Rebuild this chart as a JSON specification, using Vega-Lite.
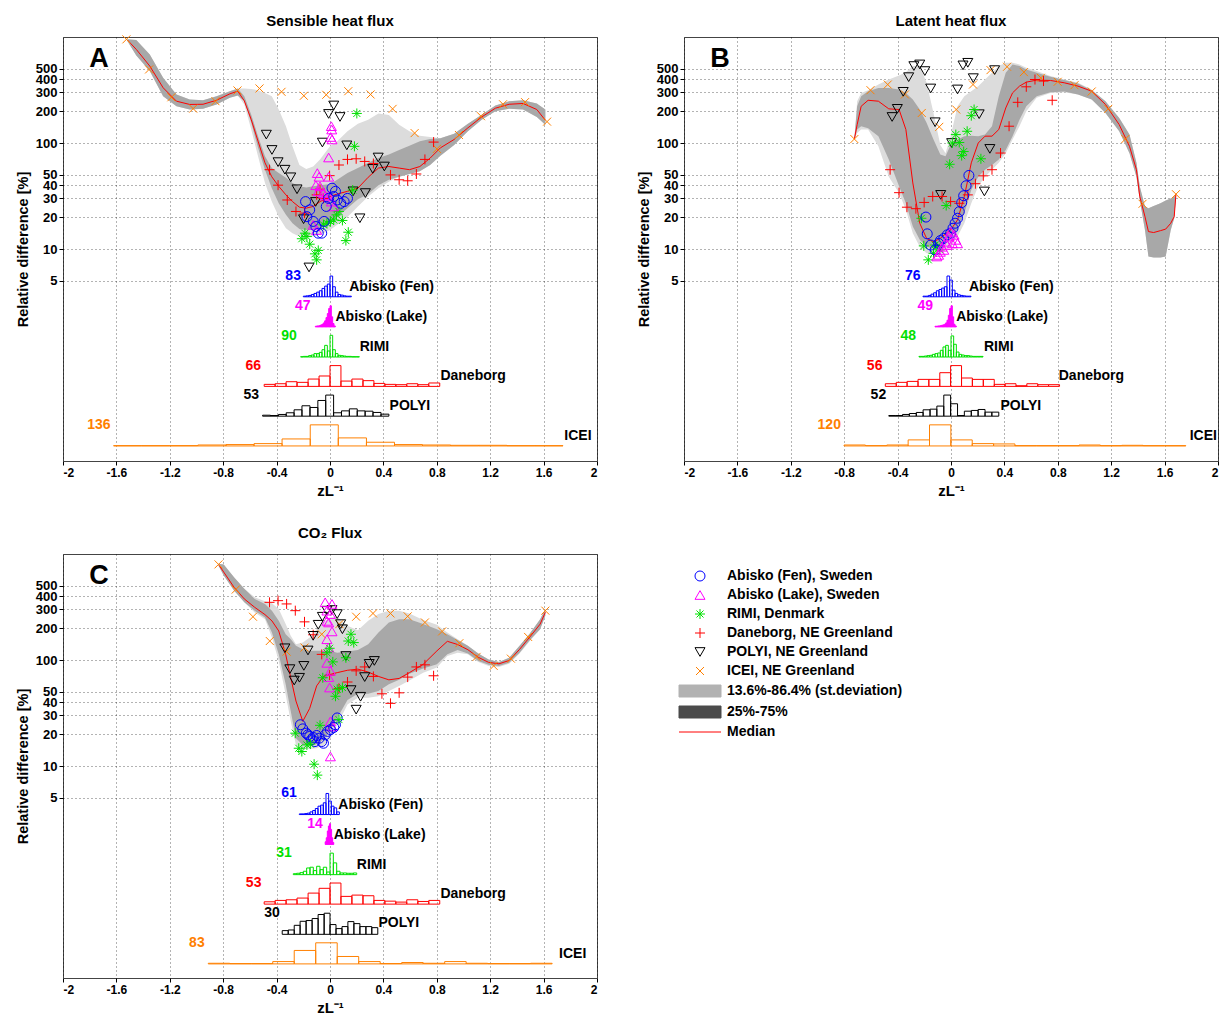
{
"$schema":"https://vega.github.io/schema/vega-lite/v6.json",
"padding":{"left":14,"top":13,"right":0,"bottom":0},
"background":"white",
"config":{
 "font":"Liberation Sans",
 "view":{"stroke":"#444","strokeWidth":1},
 "axis":{"domain":false,"ticks":true,"tickSize":4,"tickColor":"#000","grid":true,"gridDash":[1,3],"gridColor":"#000","gridOpacity":0.6,"gridWidth":1,"labelFont":"Liberation Sans","labelFontSize":12,"labelFontWeight":"bold","labelColor":"#000","labelOverlap":false,"titleFont":"Liberation Sans","titleFontSize":13,"titleFontWeight":"bold","titleColor":"#000","labelPadding":2,"titlePadding":5},
 "axisY":{"labelFontSize":13,"titleFontSize":14.5},
 "axisX":{"titleFontSize":15},
 "title":{"font":"Liberation Sans","fontSize":15,"fontWeight":"bold","color":"#000","offset":8,"frame":"group"},
 "text":{"font":"Liberation Sans"}
},
"datasets":{
"letters":[{"p":"A","x":-1.73,"y":624},{"p":"B","x":-1.73,"y":624},{"p":"C","x":-1.73,"y":618}],
"bands":[
{"p":"A","x":-1.518,"oh":950,"ol":916,"ih":950,"il":916,"m":937},
{"p":"A","x":-1.451,"oh":937,"ol":670,"ih":937,"il":670,"m":764},
{"p":"A","x":-1.35,"oh":685,"ol":477,"ih":685,"il":477,"m":532},
{"p":"A","x":-1.25,"oh":412,"ol":276,"ih":412,"il":276,"m":332},
{"p":"A","x":-1.15,"oh":287,"ol":222,"ih":287,"il":222,"m":248},
{"p":"A","x":-1.051,"oh":257,"ol":207,"ih":257,"il":207,"m":231},
{"p":"A","x":-0.951,"oh":253,"ol":210,"ih":253,"il":210,"m":232},
{"p":"A","x":-0.85,"oh":276,"ol":231,"ih":276,"il":231,"m":253},
{"p":"A","x":-0.75,"oh":308,"ol":267,"ih":308,"il":267,"m":291},
{"p":"A","x":-0.691,"oh":327,"ol":280,"ih":327,"il":280,"m":308},
{"p":"A","x":-0.642,"oh":327,"ol":231,"ih":276,"il":248,"m":250},
{"p":"A","x":-0.59,"oh":324,"ol":134,"ih":185,"il":155,"m":166},
{"p":"A","x":-0.539,"oh":315,"ol":75,"ih":116,"il":90,"m":104},
{"p":"A","x":-0.487,"oh":297,"ol":42,"ih":75,"il":56,"m":65},
{"p":"A","x":-0.436,"oh":276,"ol":28,"ih":58,"il":37.5,"m":48},
{"p":"A","x":-0.384,"oh":207,"ol":20.2,"ih":52,"il":27,"m":39},
{"p":"A","x":-0.33,"oh":144,"ol":15.7,"ih":47,"il":21,"m":32.4},
{"p":"A","x":-0.281,"oh":93,"ol":14.1,"ih":42,"il":17.5,"m":28},
{"p":"A","x":-0.229,"oh":62,"ol":13.1,"ih":39,"il":15.4,"m":24.8},
{"p":"A","x":-0.178,"oh":57,"ol":13.1,"ih":38,"il":15.1,"m":24.3},
{"p":"A","x":-0.126,"oh":60,"ol":13.1,"ih":39,"il":15.1,"m":25.2},
{"p":"A","x":-0.075,"oh":70,"ol":13.6,"ih":40,"il":15.7,"m":28},
{"p":"A","x":0,"oh":93,"ol":15.1,"ih":41,"il":17.5,"m":31.3},
{"p":"A","x":0.054,"oh":104,"ol":16.9,"ih":45,"il":20,"m":33},
{"p":"A","x":0.131,"oh":129,"ol":20,"ih":52,"il":24.3,"m":35},
{"p":"A","x":0.209,"oh":152,"ol":25.2,"ih":58,"il":29.5,"m":37.5},
{"p":"A","x":0.286,"oh":166,"ol":31.3,"ih":65,"il":33,"m":47.5},
{"p":"A","x":0.363,"oh":190,"ol":37.5,"ih":72,"il":40,"m":58},
{"p":"A","x":0.441,"oh":184,"ol":43,"ih":78,"il":45,"m":60},
{"p":"A","x":0.518,"oh":149,"ol":48,"ih":86,"il":48,"m":58},
{"p":"A","x":0.595,"oh":129,"ol":51,"ih":94,"il":51,"m":56},
{"p":"A","x":0.673,"oh":117,"ol":54,"ih":104,"il":54,"m":60},
{"p":"A","x":0.75,"oh":114,"ol":62,"ih":109,"il":62,"m":72},
{"p":"A","x":0.827,"oh":111,"ol":76,"ih":111,"il":76,"m":90},
{"p":"A","x":0.93,"oh":122,"ol":96,"ih":122,"il":96,"m":108},
{"p":"A","x":1.033,"oh":152,"ol":129,"ih":152,"il":129,"m":139},
{"p":"A","x":1.136,"oh":185,"ol":166,"ih":185,"il":166,"m":176},
{"p":"A","x":1.239,"oh":226,"ol":199,"ih":226,"il":199,"m":213},
{"p":"A","x":1.342,"oh":248,"ol":210,"ih":248,"il":210,"m":232},
{"p":"A","x":1.446,"oh":253,"ol":207,"ih":253,"il":207,"m":236},
{"p":"A","x":1.549,"oh":236,"ol":176,"ih":236,"il":176,"m":207},
{"p":"A","x":1.613,"oh":207,"ol":149,"ih":207,"il":149,"m":164},
{"p":"B","x":-0.724,"oh":109,"ol":106,"ih":109,"il":106,"m":109},
{"p":"B","x":-0.703,"oh":248,"ol":124,"ih":222,"il":134,"m":149},
{"p":"B","x":-0.673,"oh":297,"ol":134,"ih":276,"il":144,"m":222},
{"p":"B","x":-0.621,"oh":315,"ol":134,"ih":308,"il":138,"m":253},
{"p":"B","x":-0.544,"oh":356,"ol":93,"ih":331,"il":116,"m":248},
{"p":"B","x":-0.466,"oh":397,"ol":48,"ih":331,"il":70,"m":210},
{"p":"B","x":-0.389,"oh":434,"ol":33.7,"ih":320,"il":39,"m":207},
{"p":"B","x":-0.338,"oh":466,"ol":23.4,"ih":297,"il":27,"m":134},
{"p":"B","x":-0.286,"oh":532,"ol":14.1,"ih":257,"il":16.3,"m":42},
{"p":"B","x":-0.234,"oh":532,"ol":10.5,"ih":207,"il":12.2,"m":17.5},
{"p":"B","x":-0.183,"oh":370,"ol":9.1,"ih":155,"il":10.5,"m":12.6},
{"p":"B","x":-0.131,"oh":192,"ol":9.0,"ih":108,"il":10.1,"m":11.7},
{"p":"B","x":-0.08,"oh":96,"ol":9.4,"ih":78,"il":10.9,"m":12.6},
{"p":"B","x":-0.041,"oh":80,"ol":9.8,"ih":75,"il":11.7,"m":13.9},
{"p":"B","x":-0.003,"oh":116,"ol":10.5,"ih":96,"il":13.1,"m":15.1},
{"p":"B","x":0.049,"oh":222,"ol":13.1,"ih":108,"il":15.1,"m":18.8},
{"p":"B","x":0.1,"oh":276,"ol":17.5,"ih":116,"il":21.8,"m":31.3},
{"p":"B","x":0.152,"oh":308,"ol":27,"ih":117,"il":36,"m":65},
{"p":"B","x":0.204,"oh":344,"ol":39,"ih":116,"il":48,"m":100},
{"p":"B","x":0.255,"oh":397,"ol":48,"ih":120,"il":56,"m":116},
{"p":"B","x":0.307,"oh":459,"ol":56,"ih":144,"il":62,"m":116},
{"p":"B","x":0.358,"oh":532,"ol":65,"ih":276,"il":70,"m":134},
{"p":"B","x":0.41,"oh":571,"ol":80,"ih":459,"il":86,"m":214},
{"p":"B","x":0.461,"oh":571,"ol":108,"ih":551,"il":116,"m":297},
{"p":"B","x":0.513,"oh":551,"ol":144,"ih":532,"il":166,"m":344},
{"p":"B","x":0.564,"oh":513,"ol":199,"ih":494,"il":222,"m":375},
{"p":"B","x":0.642,"oh":477,"ol":267,"ih":459,"il":276,"m":392},
{"p":"B","x":0.745,"oh":428,"ol":297,"ih":421,"il":301,"m":389},
{"p":"B","x":0.848,"oh":397,"ol":301,"ih":392,"il":306,"m":370},
{"p":"B","x":0.951,"oh":370,"ol":287,"ih":365,"il":287,"m":344},
{"p":"B","x":1.054,"oh":320,"ol":257,"ih":315,"il":257,"m":308},
{"p":"B","x":1.157,"oh":248,"ol":192,"ih":248,"il":192,"m":231},
{"p":"B","x":1.26,"oh":172,"ol":129,"ih":172,"il":129,"m":149},
{"p":"B","x":1.337,"oh":120,"ol":80,"ih":120,"il":80,"m":93},
{"p":"B","x":1.389,"oh":65,"ol":48,"ih":65,"il":48,"m":56},
{"p":"B","x":1.414,"oh":39,"ol":29,"ih":39,"il":29,"m":31.3},
{"p":"B","x":1.453,"oh":25.2,"ol":15.1,"ih":25.2,"il":15.1,"m":20.2},
{"p":"B","x":1.479,"oh":24.3,"ol":8.5,"ih":24.3,"il":8.5,"m":14.6},
{"p":"B","x":1.518,"oh":25.5,"ol":8.3,"ih":25.5,"il":8.3,"m":14.3},
{"p":"B","x":1.569,"oh":27,"ol":8.3,"ih":27,"il":8.3,"m":14.9},
{"p":"B","x":1.608,"oh":28.7,"ol":8.5,"ih":28.7,"il":8.5,"m":15.4},
{"p":"B","x":1.646,"oh":30,"ol":15.1,"ih":30,"il":15.1,"m":17.5},
{"p":"B","x":1.672,"oh":31.3,"ol":19.5,"ih":31.3,"il":19.5,"m":20.2},
{"p":"B","x":1.685,"oh":33,"ol":31.3,"ih":33,"il":31.3,"m":33},
{"p":"C","x":-0.835,"oh":809,"ol":775,"ih":809,"il":775,"m":798},
{"p":"C","x":-0.796,"oh":798,"ol":627,"ih":798,"il":627,"m":675},
{"p":"C","x":-0.719,"oh":605,"ol":452,"ih":605,"il":452,"m":486},
{"p":"C","x":-0.642,"oh":469,"ol":350,"ih":469,"il":350,"m":377},
{"p":"C","x":-0.564,"oh":391,"ol":281,"ih":377,"il":292,"m":314},
{"p":"C","x":-0.487,"oh":358,"ol":243,"ih":338,"il":252,"m":268},
{"p":"C","x":-0.435,"oh":343,"ol":163,"ih":292,"il":182,"m":234},
{"p":"C","x":-0.384,"oh":303,"ol":98,"ih":234,"il":113,"m":188},
{"p":"C","x":-0.332,"oh":218,"ol":47,"ih":175,"il":59,"m":113},
{"p":"C","x":-0.294,"oh":169,"ol":26.4,"ih":157,"il":32.8,"m":68},
{"p":"C","x":-0.255,"oh":141,"ol":15.8,"ih":136,"il":18.3,"m":41},
{"p":"C","x":-0.204,"oh":146,"ol":14.5,"ih":126,"il":15.8,"m":26.4},
{"p":"C","x":-0.152,"oh":163,"ol":14.5,"ih":122,"il":15.8,"m":35},
{"p":"C","x":-0.1,"oh":195,"ol":14.7,"ih":122,"il":16.1,"m":57},
{"p":"C","x":-0.049,"oh":226,"ol":15.6,"ih":122,"il":17.7,"m":70},
{"p":"C","x":0,"oh":252,"ol":17.7,"ih":122,"il":21.2,"m":73},
{"p":"C","x":0.054,"oh":256,"ol":24.5,"ih":117,"il":28.4,"m":76},
{"p":"C","x":0.131,"oh":210,"ol":38,"ih":120,"il":42,"m":80},
{"p":"C","x":0.209,"oh":191,"ol":44,"ih":124,"il":48,"m":82},
{"p":"C","x":0.286,"oh":234,"ol":44,"ih":141,"il":48,"m":77},
{"p":"C","x":0.363,"oh":271,"ol":45.5,"ih":182,"il":51,"m":70},
{"p":"C","x":0.441,"oh":292,"ol":51,"ih":226,"il":59,"m":65},
{"p":"C","x":0.518,"oh":292,"ol":57,"ih":243,"il":65,"m":67},
{"p":"C","x":0.595,"oh":275,"ol":64,"ih":243,"il":74,"m":76},
{"p":"C","x":0.698,"oh":238,"ol":76,"ih":218,"il":83,"m":91},
{"p":"C","x":0.801,"oh":215,"ol":85,"ih":195,"il":91,"m":122},
{"p":"C","x":0.879,"oh":182,"ol":109,"ih":175,"il":113,"m":150},
{"p":"C","x":0.956,"oh":157,"ol":117,"ih":154,"il":124,"m":140},
{"p":"C","x":1.033,"oh":136,"ol":113,"ih":136,"il":115,"m":125},
{"p":"C","x":1.111,"oh":115,"ol":96,"ih":115,"il":98,"m":106},
{"p":"C","x":1.188,"oh":101,"ol":88,"ih":101,"il":90,"m":95},
{"p":"C","x":1.265,"oh":96,"ol":86,"ih":96,"il":88,"m":92},
{"p":"C","x":1.342,"oh":105,"ol":92,"ih":105,"il":94,"m":99},
{"p":"C","x":1.42,"oh":136,"ol":115,"ih":136,"il":117,"m":126},
{"p":"C","x":1.497,"oh":178,"ol":151,"ih":178,"il":154,"m":165},
{"p":"C","x":1.574,"oh":243,"ol":195,"ih":243,"il":195,"m":218},
{"p":"C","x":1.613,"oh":303,"ol":262,"ih":303,"il":262,"m":282}
],
"pts":[
{"p":"A","s":"ICEI","x":-1.525,"y":950},{"p":"A","s":"ICEI","x":-1.355,"y":494},{"p":"A","s":"ICEI","x":-1.188,"y":270},{"p":"A","s":"ICEI","x":-1.025,"y":211},{"p":"A","s":"ICEI","x":-0.858,"y":248},{"p":"A","s":"ICEI","x":-0.693,"y":313},{"p":"A","s":"ICEI","x":-0.528,"y":327},{"p":"A","s":"ICEI","x":-0.363,"y":304},{"p":"A","s":"ICEI","x":-0.196,"y":279},{"p":"A","s":"ICEI","x":-0.028,"y":285},{"p":"A","s":"ICEI","x":0.137,"y":308},{"p":"A","s":"ICEI","x":0.304,"y":287},{"p":"A","s":"ICEI","x":0.469,"y":210},{"p":"A","s":"ICEI","x":0.634,"y":124},{"p":"A","s":"ICEI","x":0.801,"y":88},{"p":"A","s":"ICEI","x":0.966,"y":119},{"p":"A","s":"ICEI","x":1.131,"y":179},{"p":"A","s":"ICEI","x":1.296,"y":232},{"p":"A","s":"ICEI","x":1.461,"y":243},{"p":"A","s":"ICEI","x":1.626,"y":159},
{"p":"A","s":"POLYI","x":0.028,"y":226},{"p":"A","s":"POLYI","x":-0.01,"y":188},{"p":"A","s":"POLYI","x":0.075,"y":176},{"p":"A","s":"POLYI","x":-0.477,"y":120},{"p":"A","s":"POLYI","x":-0.435,"y":86},{"p":"A","s":"POLYI","x":-0.057,"y":101},{"p":"A","s":"POLYI","x":0.126,"y":95},{"p":"A","s":"POLYI","x":-0.389,"y":66},{"p":"A","s":"POLYI","x":-0.338,"y":56},{"p":"A","s":"POLYI","x":-0.294,"y":47.5},{"p":"A","s":"POLYI","x":0.361,"y":73},{"p":"A","s":"POLYI","x":0.407,"y":60},{"p":"A","s":"POLYI","x":0.32,"y":57},{"p":"A","s":"POLYI","x":-0.247,"y":36.6},{"p":"A","s":"POLYI","x":0.173,"y":35},{"p":"A","s":"POLYI","x":0.265,"y":33.7},{"p":"A","s":"POLYI","x":-0.108,"y":27.8},{"p":"A","s":"POLYI","x":-0.198,"y":19.1},{"p":"A","s":"POLYI","x":0.224,"y":19.5},{"p":"A","s":"POLYI","x":-0.157,"y":6.7},
{"p":"A","s":"Dan","x":-0.453,"y":56},{"p":"A","s":"Dan","x":-0.389,"y":40},{"p":"A","s":"Dan","x":-0.32,"y":29},{"p":"A","s":"Dan","x":-0.255,"y":22.6},{"p":"A","s":"Dan","x":-0.191,"y":21.8},{"p":"A","s":"Dan","x":-0.075,"y":36.7},{"p":"A","s":"Dan","x":-0.003,"y":49.2},{"p":"A","s":"Dan","x":0.067,"y":62},{"p":"A","s":"Dan","x":0.131,"y":70},{"p":"A","s":"Dan","x":0.196,"y":71},{"p":"A","s":"Dan","x":0.26,"y":67},{"p":"A","s":"Dan","x":0.325,"y":64},{"p":"A","s":"Dan","x":0.453,"y":50},{"p":"A","s":"Dan","x":0.518,"y":45},{"p":"A","s":"Dan","x":0.582,"y":44},{"p":"A","s":"Dan","x":0.647,"y":51},{"p":"A","s":"Dan","x":0.711,"y":70},{"p":"A","s":"Dan","x":0.776,"y":102},{"p":"A","s":"Dan","x":-0.049,"y":30},{"p":"A","s":"Dan","x":-0.1,"y":32.4},
{"p":"A","s":"RIMI","x":0.201,"y":190},{"p":"A","s":"RIMI","x":0.183,"y":93},{"p":"A","s":"RIMI","x":0.17,"y":36},{"p":"A","s":"RIMI","x":0.067,"y":22.6},{"p":"A","s":"RIMI","x":0.049,"y":21},{"p":"A","s":"RIMI","x":0.028,"y":18.8},{"p":"A","s":"RIMI","x":0.093,"y":18.6},{"p":"A","s":"RIMI","x":0.003,"y":18.2},{"p":"A","s":"RIMI","x":-0.023,"y":17.5},{"p":"A","s":"RIMI","x":-0.049,"y":16.9},{"p":"A","s":"RIMI","x":-0.188,"y":14.1},{"p":"A","s":"RIMI","x":-0.211,"y":12.5},{"p":"A","s":"RIMI","x":-0.152,"y":11.1},{"p":"A","s":"RIMI","x":-0.088,"y":9.7},{"p":"A","s":"RIMI","x":-0.113,"y":9.0},{"p":"A","s":"RIMI","x":-0.1,"y":7.9},{"p":"A","s":"RIMI","x":0.137,"y":14.4},{"p":"A","s":"RIMI","x":0.119,"y":12.0},{"p":"A","s":"RIMI","x":-0.173,"y":13.1},
{"p":"A","s":"Lake","x":0.01,"y":144},{"p":"A","s":"Lake","x":0.013,"y":134},{"p":"A","s":"Lake","x":0.005,"y":114},{"p":"A","s":"Lake","x":0.015,"y":108},{"p":"A","s":"Lake","x":-0.01,"y":73},{"p":"A","s":"Lake","x":-0.095,"y":52},{"p":"A","s":"Lake","x":-0.082,"y":48},{"p":"A","s":"Lake","x":-0.01,"y":48},{"p":"A","s":"Lake","x":-0.106,"y":40},{"p":"A","s":"Lake","x":-0.075,"y":39},{"p":"A","s":"Lake","x":-0.088,"y":35},{"p":"A","s":"Lake","x":-0.049,"y":33.7},{"p":"A","s":"Lake","x":-0.036,"y":32},{"p":"A","s":"Lake","x":-0.01,"y":31.8},{"p":"A","s":"Lake","x":0.01,"y":28},{"p":"A","s":"Lake","x":0.028,"y":25.2},{"p":"A","s":"Lake","x":-0.126,"y":16.9},{"p":"A","s":"Lake","x":-0.1,"y":15.1},
{"p":"A","s":"Fen","x":-0.183,"y":28},{"p":"A","s":"Fen","x":-0.152,"y":23.4},{"p":"A","s":"Fen","x":-0.173,"y":20.2},{"p":"A","s":"Fen","x":-0.126,"y":18.2},{"p":"A","s":"Fen","x":-0.106,"y":16.3},{"p":"A","s":"Fen","x":-0.088,"y":14.1},{"p":"A","s":"Fen","x":-0.062,"y":14.1},{"p":"A","s":"Fen","x":-0.028,"y":25.2},{"p":"A","s":"Fen","x":-0.044,"y":18.2},{"p":"A","s":"Fen","x":0.015,"y":37.5},{"p":"A","s":"Fen","x":0.041,"y":35},{"p":"A","s":"Fen","x":0.028,"y":31.3},{"p":"A","s":"Fen","x":0.054,"y":29},{"p":"A","s":"Fen","x":0.08,"y":27},{"p":"A","s":"Fen","x":0.106,"y":28},{"p":"A","s":"Fen","x":0.131,"y":30},{"p":"A","s":"Fen","x":-0.01,"y":30},
{"p":"B","s":"ICEI","x":-0.724,"y":109},{"p":"B","s":"ICEI","x":-0.603,"y":315},{"p":"B","s":"ICEI","x":-0.474,"y":356},{"p":"B","s":"ICEI","x":-0.345,"y":287},{"p":"B","s":"ICEI","x":-0.219,"y":192},{"p":"B","s":"ICEI","x":-0.088,"y":142},{"p":"B","s":"ICEI","x":0.039,"y":207},{"p":"B","s":"ICEI","x":0.165,"y":356},{"p":"B","s":"ICEI","x":0.296,"y":487},{"p":"B","s":"ICEI","x":0.42,"y":524},{"p":"B","s":"ICEI","x":0.546,"y":466},{"p":"B","s":"ICEI","x":0.673,"y":412},{"p":"B","s":"ICEI","x":0.799,"y":378},{"p":"B","s":"ICEI","x":0.925,"y":351},{"p":"B","s":"ICEI","x":1.054,"y":306},{"p":"B","s":"ICEI","x":1.178,"y":210},{"p":"B","s":"ICEI","x":1.306,"y":109},{"p":"B","s":"ICEI","x":1.435,"y":26.7},{"p":"B","s":"ICEI","x":1.685,"y":32.9},
{"p":"B","s":"POLYI","x":-0.278,"y":532},{"p":"B","s":"POLYI","x":-0.234,"y":551},{"p":"B","s":"POLYI","x":-0.196,"y":477},{"p":"B","s":"POLYI","x":-0.317,"y":418},{"p":"B","s":"POLYI","x":-0.358,"y":304},{"p":"B","s":"POLYI","x":-0.402,"y":210},{"p":"B","s":"POLYI","x":-0.441,"y":176},{"p":"B","s":"POLYI","x":-0.152,"y":327},{"p":"B","s":"POLYI","x":-0.119,"y":157},{"p":"B","s":"POLYI","x":0.09,"y":540},{"p":"B","s":"POLYI","x":0.126,"y":571},{"p":"B","s":"POLYI","x":0.167,"y":409},{"p":"B","s":"POLYI","x":0.049,"y":320},{"p":"B","s":"POLYI","x":0.327,"y":487},{"p":"B","s":"POLYI","x":0.211,"y":187},{"p":"B","s":"POLYI","x":0.005,"y":100},{"p":"B","s":"POLYI","x":0.291,"y":88},{"p":"B","s":"POLYI","x":-0.077,"y":32.4},{"p":"B","s":"POLYI","x":0.25,"y":34.9},
{"p":"B","s":"Dan","x":-0.456,"y":56},{"p":"B","s":"Dan","x":-0.389,"y":34},{"p":"B","s":"Dan","x":-0.33,"y":24.8},{"p":"B","s":"Dan","x":-0.263,"y":24},{"p":"B","s":"Dan","x":-0.201,"y":27.5},{"p":"B","s":"Dan","x":-0.137,"y":31.3},{"p":"B","s":"Dan","x":-0.067,"y":31.3},{"p":"B","s":"Dan","x":-0.003,"y":28},{"p":"B","s":"Dan","x":0.062,"y":27},{"p":"B","s":"Dan","x":0.126,"y":32.4},{"p":"B","s":"Dan","x":0.183,"y":41.3},{"p":"B","s":"Dan","x":0.242,"y":49},{"p":"B","s":"Dan","x":0.307,"y":56},{"p":"B","s":"Dan","x":0.371,"y":80.4},{"p":"B","s":"Dan","x":0.435,"y":144},{"p":"B","s":"Dan","x":0.5,"y":242},{"p":"B","s":"Dan","x":0.564,"y":339},{"p":"B","s":"Dan","x":0.629,"y":397},{"p":"B","s":"Dan","x":0.693,"y":384},{"p":"B","s":"Dan","x":0.758,"y":253},
{"p":"B","s":"RIMI","x":0.173,"y":207},{"p":"B","s":"RIMI","x":0.152,"y":181},{"p":"B","s":"RIMI","x":0.121,"y":129},{"p":"B","s":"RIMI","x":0.036,"y":120},{"p":"B","s":"RIMI","x":0.062,"y":101},{"p":"B","s":"RIMI","x":0.01,"y":100},{"p":"B","s":"RIMI","x":0.095,"y":83},{"p":"B","s":"RIMI","x":0.08,"y":76},{"p":"B","s":"RIMI","x":0.224,"y":71},{"p":"B","s":"RIMI","x":-0.01,"y":63},{"p":"B","s":"RIMI","x":-0.036,"y":25.7},{"p":"B","s":"RIMI","x":-0.222,"y":19.5},{"p":"B","s":"RIMI","x":-0.204,"y":10.7},{"p":"B","s":"RIMI","x":-0.119,"y":10.9},{"p":"B","s":"RIMI","x":-0.085,"y":9.8},{"p":"B","s":"RIMI","x":-0.131,"y":9.1},{"p":"B","s":"RIMI","x":-0.17,"y":7.9},{"p":"B","s":"RIMI","x":-0.106,"y":10.5},
{"p":"B","s":"Fen","x":0.134,"y":49.4},{"p":"B","s":"Fen","x":0.113,"y":39.5},{"p":"B","s":"Fen","x":0.095,"y":31.8},{"p":"B","s":"Fen","x":0.08,"y":27.4},{"p":"B","s":"Fen","x":0.062,"y":22.5},{"p":"B","s":"Fen","x":0.049,"y":19.5},{"p":"B","s":"Fen","x":0.031,"y":17.5},{"p":"B","s":"Fen","x":0.015,"y":15.7},{"p":"B","s":"Fen","x":-0.003,"y":14.1},{"p":"B","s":"Fen","x":-0.028,"y":13.6},{"p":"B","s":"Fen","x":-0.054,"y":12.6},{"p":"B","s":"Fen","x":-0.08,"y":12},{"p":"B","s":"Fen","x":-0.188,"y":20},{"p":"B","s":"Fen","x":-0.178,"y":13.9},{"p":"B","s":"Fen","x":-0.152,"y":10.9},{"p":"B","s":"Fen","x":-0.119,"y":9.8},{"p":"B","s":"Fen","x":-0.093,"y":11.3},
{"p":"B","s":"Lake","x":-0.003,"y":14.6},{"p":"B","s":"Lake","x":0.023,"y":13.6},{"p":"B","s":"Lake","x":-0.015,"y":13.1},{"p":"B","s":"Lake","x":0.036,"y":12.2},{"p":"B","s":"Lake","x":-0.041,"y":11.7},{"p":"B","s":"Lake","x":0.01,"y":11.3},{"p":"B","s":"Lake","x":-0.067,"y":10.5},{"p":"B","s":"Lake","x":-0.08,"y":9.4},{"p":"B","s":"Lake","x":-0.093,"y":8.8},{"p":"B","s":"Lake","x":-0.106,"y":8.5},{"p":"B","s":"Lake","x":-0.028,"y":10.9},{"p":"B","s":"Lake","x":-0.054,"y":9.8},{"p":"B","s":"Lake","x":0.049,"y":11.3},
{"p":"C","s":"ICEI","x":-0.835,"y":798},{"p":"C","s":"ICEI","x":-0.706,"y":462},{"p":"C","s":"ICEI","x":-0.577,"y":256},{"p":"C","s":"ICEI","x":-0.451,"y":151},{"p":"C","s":"ICEI","x":-0.325,"y":120},{"p":"C","s":"ICEI","x":-0.191,"y":131},{"p":"C","s":"ICEI","x":-0.062,"y":175},{"p":"C","s":"ICEI","x":0.07,"y":218},{"p":"C","s":"ICEI","x":0.196,"y":256},{"p":"C","s":"ICEI","x":0.322,"y":275},{"p":"C","s":"ICEI","x":0.453,"y":275},{"p":"C","s":"ICEI","x":0.582,"y":258},{"p":"C","s":"ICEI","x":0.711,"y":226},{"p":"C","s":"ICEI","x":0.84,"y":186},{"p":"C","s":"ICEI","x":0.969,"y":144},{"p":"C","s":"ICEI","x":1.098,"y":107},{"p":"C","s":"ICEI","x":1.226,"y":88},{"p":"C","s":"ICEI","x":1.355,"y":103},{"p":"C","s":"ICEI","x":1.484,"y":165},{"p":"C","s":"ICEI","x":1.613,"y":292},
{"p":"C","s":"Dan","x":-0.453,"y":350},{"p":"C","s":"Dan","x":-0.389,"y":363},{"p":"C","s":"Dan","x":-0.325,"y":338},{"p":"C","s":"Dan","x":-0.26,"y":292},{"p":"C","s":"Dan","x":-0.191,"y":229},{"p":"C","s":"Dan","x":-0.126,"y":173},{"p":"C","s":"Dan","x":-0.062,"y":113},{"p":"C","s":"Dan","x":-0.003,"y":72},{"p":"C","s":"Dan","x":0.067,"y":54},{"p":"C","s":"Dan","x":0.131,"y":62},{"p":"C","s":"Dan","x":0.196,"y":79},{"p":"C","s":"Dan","x":0.26,"y":86},{"p":"C","s":"Dan","x":0.325,"y":70},{"p":"C","s":"Dan","x":0.389,"y":48},{"p":"C","s":"Dan","x":0.453,"y":39},{"p":"C","s":"Dan","x":0.518,"y":49},{"p":"C","s":"Dan","x":0.582,"y":69},{"p":"C","s":"Dan","x":0.647,"y":86},{"p":"C","s":"Dan","x":0.711,"y":90},{"p":"C","s":"Dan","x":0.776,"y":71},
{"p":"C","s":"POLYI","x":-0.057,"y":256},{"p":"C","s":"POLYI","x":-0.088,"y":215},{"p":"C","s":"POLYI","x":-0.023,"y":292},{"p":"C","s":"POLYI","x":0.015,"y":296},{"p":"C","s":"POLYI","x":0.054,"y":271},{"p":"C","s":"POLYI","x":0.08,"y":218},{"p":"C","s":"POLYI","x":0.093,"y":195},{"p":"C","s":"POLYI","x":-0.126,"y":169},{"p":"C","s":"POLYI","x":-0.165,"y":123},{"p":"C","s":"POLYI","x":-0.338,"y":129},{"p":"C","s":"POLYI","x":-0.301,"y":82},{"p":"C","s":"POLYI","x":-0.196,"y":88},{"p":"C","s":"POLYI","x":-0.229,"y":68},{"p":"C","s":"POLYI","x":-0.268,"y":64},{"p":"C","s":"POLYI","x":0.119,"y":109},{"p":"C","s":"POLYI","x":0.294,"y":92},{"p":"C","s":"POLYI","x":0.332,"y":98},{"p":"C","s":"POLYI","x":0.26,"y":69},{"p":"C","s":"POLYI","x":0.157,"y":52},{"p":"C","s":"POLYI","x":0.229,"y":45},{"p":"C","s":"POLYI","x":0.196,"y":34},
{"p":"C","s":"Lake","x":-0.036,"y":350},{"p":"C","s":"Lake","x":0.015,"y":338},{"p":"C","s":"Lake","x":-0.023,"y":292},{"p":"C","s":"Lake","x":0.003,"y":271},{"p":"C","s":"Lake","x":-0.01,"y":226},{"p":"C","s":"Lake","x":0.015,"y":186},{"p":"C","s":"Lake","x":-0.023,"y":157},{"p":"C","s":"Lake","x":-0.01,"y":131},{"p":"C","s":"Lake","x":-0.023,"y":94},{"p":"C","s":"Lake","x":0.003,"y":79},{"p":"C","s":"Lake","x":-0.01,"y":69},{"p":"C","s":"Lake","x":-0.003,"y":55},{"p":"C","s":"Lake","x":0.003,"y":26.4},{"p":"C","s":"Lake","x":0.015,"y":23.6},{"p":"C","s":"Lake","x":0.003,"y":12.3},{"p":"C","s":"Lake","x":-0.023,"y":234},
{"p":"C","s":"Fen","x":-0.222,"y":24.5},{"p":"C","s":"Fen","x":-0.204,"y":22.4},{"p":"C","s":"Fen","x":-0.178,"y":20.4},{"p":"C","s":"Fen","x":-0.152,"y":19},{"p":"C","s":"Fen","x":-0.126,"y":18.6},{"p":"C","s":"Fen","x":-0.1,"y":19.4},{"p":"C","s":"Fen","x":-0.08,"y":18.3},{"p":"C","s":"Fen","x":-0.062,"y":17},{"p":"C","s":"Fen","x":-0.049,"y":16.4},{"p":"C","s":"Fen","x":-0.036,"y":19.7},{"p":"C","s":"Fen","x":-0.018,"y":21.2},{"p":"C","s":"Fen","x":0.003,"y":22},{"p":"C","s":"Fen","x":0.028,"y":23.1},{"p":"C","s":"Fen","x":0.054,"y":28.4},{"p":"C","s":"Fen","x":-0.113,"y":17},{"p":"C","s":"Fen","x":-0.139,"y":17.7},{"p":"C","s":"Fen","x":-0.165,"y":19.7},{"p":"C","s":"Fen","x":0.041,"y":24.5},
{"p":"C","s":"RIMI","x":0.157,"y":175},{"p":"C","s":"RIMI","x":0.137,"y":151},{"p":"C","s":"RIMI","x":0.178,"y":146},{"p":"C","s":"RIMI","x":-0.003,"y":129},{"p":"C","s":"RIMI","x":-0.023,"y":117},{"p":"C","s":"RIMI","x":0.021,"y":96},{"p":"C","s":"RIMI","x":0.119,"y":105},{"p":"C","s":"RIMI","x":-0.054,"y":68},{"p":"C","s":"RIMI","x":0.093,"y":55},{"p":"C","s":"RIMI","x":0.054,"y":53},{"p":"C","s":"RIMI","x":0.041,"y":45.5},{"p":"C","s":"RIMI","x":0.067,"y":27.4},{"p":"C","s":"RIMI","x":-0.075,"y":24.2},{"p":"C","s":"RIMI","x":-0.26,"y":20.4},{"p":"C","s":"RIMI","x":-0.234,"y":14.7},{"p":"C","s":"RIMI","x":-0.211,"y":13.7},{"p":"C","s":"RIMI","x":-0.173,"y":15.8},{"p":"C","s":"RIMI","x":-0.147,"y":16.1},{"p":"C","s":"RIMI","x":-0.119,"y":10.4},{"p":"C","s":"RIMI","x":-0.095,"y":8.2}
],
"hist":[
{"p":"A","s":"Fen","x":-0.2,"x2":-0.18,"b":0.549,"t":0.555},{"p":"A","s":"Fen","x":-0.18,"x2":-0.16,"b":0.549,"t":0.558},{"p":"A","s":"Fen","x":-0.16,"x2":-0.14,"b":0.549,"t":0.562},{"p":"A","s":"Fen","x":-0.14,"x2":-0.12,"b":0.549,"t":0.571},{"p":"A","s":"Fen","x":-0.12,"x2":-0.1,"b":0.549,"t":0.581},{"p":"A","s":"Fen","x":-0.1,"x2":-0.08,"b":0.549,"t":0.593},{"p":"A","s":"Fen","x":-0.08,"x2":-0.06,"b":0.549,"t":0.606},{"p":"A","s":"Fen","x":-0.06,"x2":-0.04,"b":0.549,"t":0.628},{"p":"A","s":"Fen","x":-0.04,"x2":-0.02,"b":0.549,"t":0.65},{"p":"A","s":"Fen","x":-0.02,"x2":0,"b":0.549,"t":0.669},{"p":"A","s":"Fen","x":0,"x2":0.02,"b":0.549,"t":0.745},{"p":"A","s":"Fen","x":0.02,"x2":0.04,"b":0.549,"t":0.644},{"p":"A","s":"Fen","x":0.04,"x2":0.06,"b":0.549,"t":0.593},{"p":"A","s":"Fen","x":0.06,"x2":0.08,"b":0.549,"t":0.571},{"p":"A","s":"Fen","x":0.08,"x2":0.1,"b":0.549,"t":0.565},{"p":"A","s":"Fen","x":0.1,"x2":0.12,"b":0.549,"t":0.558},{"p":"A","s":"Fen","x":0.12,"x2":0.14,"b":0.549,"t":0.555},{"p":"A","s":"Fen","x":0.14,"x2":0.16,"b":0.549,"t":0.555},
{"p":"A","s":"Lake","x":-0.11,"x2":-0.1,"b":0.265,"t":0.271},{"p":"A","s":"Lake","x":-0.1,"x2":-0.09,"b":0.265,"t":0.274},{"p":"A","s":"Lake","x":-0.09,"x2":-0.08,"b":0.265,"t":0.274},{"p":"A","s":"Lake","x":-0.08,"x2":-0.07,"b":0.265,"t":0.278},{"p":"A","s":"Lake","x":-0.07,"x2":-0.06,"b":0.265,"t":0.284},{"p":"A","s":"Lake","x":-0.06,"x2":-0.05,"b":0.265,"t":0.29},{"p":"A","s":"Lake","x":-0.05,"x2":-0.04,"b":0.265,"t":0.303},{"p":"A","s":"Lake","x":-0.04,"x2":-0.03,"b":0.265,"t":0.322},{"p":"A","s":"Lake","x":-0.03,"x2":-0.02,"b":0.265,"t":0.353},{"p":"A","s":"Lake","x":-0.02,"x2":-0.01,"b":0.265,"t":0.391},{"p":"A","s":"Lake","x":-0.01,"x2":0,"b":0.265,"t":0.439},{"p":"A","s":"Lake","x":0,"x2":0.01,"b":0.265,"t":0.464},{"p":"A","s":"Lake","x":0.01,"x2":0.02,"b":0.265,"t":0.36},{"p":"A","s":"Lake","x":0.02,"x2":0.03,"b":0.265,"t":0.297},{"p":"A","s":"Lake","x":0.03,"x2":0.04,"b":0.265,"t":0.274},
{"p":"A","s":"RIMI","x":-0.22,"x2":-0.2,"b":-0.019,"t":-0.016},{"p":"A","s":"RIMI","x":-0.2,"x2":-0.18,"b":-0.019,"t":-0.013},{"p":"A","s":"RIMI","x":-0.18,"x2":-0.16,"b":-0.019,"t":-0.013},{"p":"A","s":"RIMI","x":-0.16,"x2":-0.14,"b":-0.019,"t":-0.006},{"p":"A","s":"RIMI","x":-0.14,"x2":-0.12,"b":-0.019,"t":0},{"p":"A","s":"RIMI","x":-0.12,"x2":-0.1,"b":-0.019,"t":0.013},{"p":"A","s":"RIMI","x":-0.1,"x2":-0.08,"b":-0.019,"t":0.013},{"p":"A","s":"RIMI","x":-0.08,"x2":-0.06,"b":-0.019,"t":0.025},{"p":"A","s":"RIMI","x":-0.06,"x2":-0.04,"b":-0.019,"t":0.05},{"p":"A","s":"RIMI","x":-0.04,"x2":-0.02,"b":-0.019,"t":0.091},{"p":"A","s":"RIMI","x":-0.02,"x2":0,"b":-0.019,"t":0.038},{"p":"A","s":"RIMI","x":0,"x2":0.02,"b":-0.019,"t":0.186},{"p":"A","s":"RIMI","x":0.02,"x2":0.04,"b":-0.019,"t":0.05},{"p":"A","s":"RIMI","x":0.04,"x2":0.06,"b":-0.019,"t":0.013},{"p":"A","s":"RIMI","x":0.06,"x2":0.08,"b":-0.019,"t":-0.003},{"p":"A","s":"RIMI","x":0.08,"x2":0.1,"b":-0.019,"t":-0.006},{"p":"A","s":"RIMI","x":0.1,"x2":0.12,"b":-0.019,"t":-0.01},{"p":"A","s":"RIMI","x":0.12,"x2":0.14,"b":-0.019,"t":-0.013},{"p":"A","s":"RIMI","x":0.14,"x2":0.16,"b":-0.019,"t":-0.013},{"p":"A","s":"RIMI","x":0.16,"x2":0.18,"b":-0.019,"t":-0.016},{"p":"A","s":"RIMI","x":0.18,"x2":0.2,"b":-0.019,"t":-0.016},{"p":"A","s":"RIMI","x":0.2,"x2":0.22,"b":-0.019,"t":-0.016},
{"p":"A","s":"Dan","x":-0.493,"x2":-0.411,"b":-0.296,"t":-0.277},{"p":"A","s":"Dan","x":-0.411,"x2":-0.329,"b":-0.296,"t":-0.271},{"p":"A","s":"Dan","x":-0.329,"x2":-0.247,"b":-0.296,"t":-0.252},{"p":"A","s":"Dan","x":-0.247,"x2":-0.164,"b":-0.296,"t":-0.258},{"p":"A","s":"Dan","x":-0.164,"x2":-0.082,"b":-0.296,"t":-0.227},{"p":"A","s":"Dan","x":-0.082,"x2":0,"b":-0.296,"t":-0.198},{"p":"A","s":"Dan","x":0,"x2":0.082,"b":-0.296,"t":-0.1},{"p":"A","s":"Dan","x":0.082,"x2":0.164,"b":-0.296,"t":-0.246},{"p":"A","s":"Dan","x":0.164,"x2":0.247,"b":-0.296,"t":-0.227},{"p":"A","s":"Dan","x":0.247,"x2":0.329,"b":-0.296,"t":-0.242},{"p":"A","s":"Dan","x":0.329,"x2":0.411,"b":-0.296,"t":-0.268},{"p":"A","s":"Dan","x":0.411,"x2":0.493,"b":-0.296,"t":-0.277},{"p":"A","s":"Dan","x":0.493,"x2":0.575,"b":-0.296,"t":-0.28},{"p":"A","s":"Dan","x":0.575,"x2":0.658,"b":-0.296,"t":-0.271},{"p":"A","s":"Dan","x":0.658,"x2":0.74,"b":-0.296,"t":-0.28},{"p":"A","s":"Dan","x":0.74,"x2":0.822,"b":-0.296,"t":-0.264},
{"p":"A","s":"POLYI","x":-0.505,"x2":-0.446,"b":-0.577,"t":-0.568},{"p":"A","s":"POLYI","x":-0.446,"x2":-0.387,"b":-0.577,"t":-0.571},{"p":"A","s":"POLYI","x":-0.387,"x2":-0.328,"b":-0.577,"t":-0.561},{"p":"A","s":"POLYI","x":-0.328,"x2":-0.269,"b":-0.577,"t":-0.545},{"p":"A","s":"POLYI","x":-0.269,"x2":-0.21,"b":-0.577,"t":-0.517},{"p":"A","s":"POLYI","x":-0.21,"x2":-0.15,"b":-0.577,"t":-0.479},{"p":"A","s":"POLYI","x":-0.15,"x2":-0.091,"b":-0.577,"t":-0.495},{"p":"A","s":"POLYI","x":-0.091,"x2":-0.032,"b":-0.577,"t":-0.429},{"p":"A","s":"POLYI","x":-0.032,"x2":0.027,"b":-0.577,"t":-0.378},{"p":"A","s":"POLYI","x":0.027,"x2":0.086,"b":-0.577,"t":-0.545},{"p":"A","s":"POLYI","x":0.086,"x2":0.145,"b":-0.577,"t":-0.527},{"p":"A","s":"POLYI","x":0.145,"x2":0.204,"b":-0.577,"t":-0.508},{"p":"A","s":"POLYI","x":0.204,"x2":0.263,"b":-0.577,"t":-0.527},{"p":"A","s":"POLYI","x":0.263,"x2":0.322,"b":-0.577,"t":-0.53},{"p":"A","s":"POLYI","x":0.322,"x2":0.382,"b":-0.577,"t":-0.542},{"p":"A","s":"POLYI","x":0.382,"x2":0.441,"b":-0.577,"t":-0.558},
{"p":"A","s":"ICEI","x":-1.621,"x2":-1.411,"b":-0.858,"t":-0.855},{"p":"A","s":"ICEI","x":-1.411,"x2":-1.2,"b":-0.858,"t":-0.855},{"p":"A","s":"ICEI","x":-1.2,"x2":-0.99,"b":-0.858,"t":-0.855},{"p":"A","s":"ICEI","x":-0.99,"x2":-0.779,"b":-0.858,"t":-0.849},{"p":"A","s":"ICEI","x":-0.779,"x2":-0.569,"b":-0.858,"t":-0.845},{"p":"A","s":"ICEI","x":-0.569,"x2":-0.359,"b":-0.858,"t":-0.836},{"p":"A","s":"ICEI","x":-0.359,"x2":-0.148,"b":-0.858,"t":-0.792},{"p":"A","s":"ICEI","x":-0.148,"x2":0.062,"b":-0.858,"t":-0.659},{"p":"A","s":"ICEI","x":0.062,"x2":0.273,"b":-0.858,"t":-0.782},{"p":"A","s":"ICEI","x":0.273,"x2":0.483,"b":-0.858,"t":-0.823},{"p":"A","s":"ICEI","x":0.483,"x2":0.693,"b":-0.858,"t":-0.845},{"p":"A","s":"ICEI","x":0.693,"x2":0.904,"b":-0.858,"t":-0.849},{"p":"A","s":"ICEI","x":0.904,"x2":1.114,"b":-0.858,"t":-0.852},{"p":"A","s":"ICEI","x":1.114,"x2":1.325,"b":-0.858,"t":-0.852},{"p":"A","s":"ICEI","x":1.325,"x2":1.535,"b":-0.858,"t":-0.855},{"p":"A","s":"ICEI","x":1.535,"x2":1.745,"b":-0.858,"t":-0.855},
{"p":"B","s":"Fen","x":-0.21,"x2":-0.19,"b":0.549,"t":0.555},{"p":"B","s":"Fen","x":-0.19,"x2":-0.17,"b":0.549,"t":0.555},{"p":"B","s":"Fen","x":-0.17,"x2":-0.15,"b":0.549,"t":0.562},{"p":"B","s":"Fen","x":-0.15,"x2":-0.13,"b":0.549,"t":0.574},{"p":"B","s":"Fen","x":-0.13,"x2":-0.11,"b":0.549,"t":0.587},{"p":"B","s":"Fen","x":-0.11,"x2":-0.09,"b":0.549,"t":0.606},{"p":"B","s":"Fen","x":-0.09,"x2":-0.07,"b":0.549,"t":0.618},{"p":"B","s":"Fen","x":-0.07,"x2":-0.05,"b":0.549,"t":0.631},{"p":"B","s":"Fen","x":-0.05,"x2":-0.03,"b":0.549,"t":0.644},{"p":"B","s":"Fen","x":-0.03,"x2":-0.01,"b":0.549,"t":0.745},{"p":"B","s":"Fen","x":-0.01,"x2":0.01,"b":0.549,"t":0.707},{"p":"B","s":"Fen","x":0.01,"x2":0.03,"b":0.549,"t":0.612},{"p":"B","s":"Fen","x":0.03,"x2":0.05,"b":0.549,"t":0.581},{"p":"B","s":"Fen","x":0.05,"x2":0.07,"b":0.549,"t":0.568},{"p":"B","s":"Fen","x":0.07,"x2":0.09,"b":0.549,"t":0.562},{"p":"B","s":"Fen","x":0.09,"x2":0.11,"b":0.549,"t":0.558},{"p":"B","s":"Fen","x":0.11,"x2":0.13,"b":0.549,"t":0.555},{"p":"B","s":"Fen","x":0.13,"x2":0.15,"b":0.549,"t":0.555},
{"p":"B","s":"Lake","x":-0.12,"x2":-0.11,"b":0.265,"t":0.271},{"p":"B","s":"Lake","x":-0.11,"x2":-0.1,"b":0.265,"t":0.271},{"p":"B","s":"Lake","x":-0.1,"x2":-0.09,"b":0.265,"t":0.274},{"p":"B","s":"Lake","x":-0.09,"x2":-0.08,"b":0.265,"t":0.274},{"p":"B","s":"Lake","x":-0.08,"x2":-0.07,"b":0.265,"t":0.278},{"p":"B","s":"Lake","x":-0.07,"x2":-0.06,"b":0.265,"t":0.281},{"p":"B","s":"Lake","x":-0.06,"x2":-0.05,"b":0.265,"t":0.284},{"p":"B","s":"Lake","x":-0.05,"x2":-0.04,"b":0.265,"t":0.29},{"p":"B","s":"Lake","x":-0.04,"x2":-0.03,"b":0.265,"t":0.303},{"p":"B","s":"Lake","x":-0.03,"x2":-0.02,"b":0.265,"t":0.328},{"p":"B","s":"Lake","x":-0.02,"x2":-0.01,"b":0.265,"t":0.375},{"p":"B","s":"Lake","x":-0.01,"x2":0,"b":0.265,"t":0.439},{"p":"B","s":"Lake","x":0,"x2":0.01,"b":0.265,"t":0.464},{"p":"B","s":"Lake","x":0.01,"x2":0.02,"b":0.265,"t":0.36},{"p":"B","s":"Lake","x":0.02,"x2":0.03,"b":0.265,"t":0.29},{"p":"B","s":"Lake","x":0.03,"x2":0.04,"b":0.265,"t":0.274},
{"p":"B","s":"RIMI","x":-0.24,"x2":-0.22,"b":-0.019,"t":-0.013},{"p":"B","s":"RIMI","x":-0.22,"x2":-0.2,"b":-0.019,"t":-0.013},{"p":"B","s":"RIMI","x":-0.2,"x2":-0.18,"b":-0.019,"t":-0.01},{"p":"B","s":"RIMI","x":-0.18,"x2":-0.16,"b":-0.019,"t":-0.006},{"p":"B","s":"RIMI","x":-0.16,"x2":-0.14,"b":-0.019,"t":-0.003},{"p":"B","s":"RIMI","x":-0.14,"x2":-0.12,"b":-0.019,"t":0.006},{"p":"B","s":"RIMI","x":-0.12,"x2":-0.1,"b":-0.019,"t":0.013},{"p":"B","s":"RIMI","x":-0.1,"x2":-0.08,"b":-0.019,"t":0.019},{"p":"B","s":"RIMI","x":-0.08,"x2":-0.06,"b":-0.019,"t":0.044},{"p":"B","s":"RIMI","x":-0.06,"x2":-0.04,"b":-0.019,"t":0.076},{"p":"B","s":"RIMI","x":-0.04,"x2":-0.02,"b":-0.019,"t":0.091},{"p":"B","s":"RIMI","x":-0.02,"x2":0,"b":-0.019,"t":0.044},{"p":"B","s":"RIMI","x":0,"x2":0.02,"b":-0.019,"t":0.18},{"p":"B","s":"RIMI","x":0.02,"x2":0.04,"b":-0.019,"t":0.101},{"p":"B","s":"RIMI","x":0.04,"x2":0.06,"b":-0.019,"t":0.028},{"p":"B","s":"RIMI","x":0.06,"x2":0.08,"b":-0.019,"t":0.006},{"p":"B","s":"RIMI","x":0.08,"x2":0.1,"b":-0.019,"t":0},{"p":"B","s":"RIMI","x":0.1,"x2":0.12,"b":-0.019,"t":-0.006},{"p":"B","s":"RIMI","x":0.12,"x2":0.14,"b":-0.019,"t":-0.006},{"p":"B","s":"RIMI","x":0.14,"x2":0.16,"b":-0.019,"t":-0.01},{"p":"B","s":"RIMI","x":0.16,"x2":0.18,"b":-0.019,"t":-0.013},{"p":"B","s":"RIMI","x":0.18,"x2":0.2,"b":-0.019,"t":-0.013},{"p":"B","s":"RIMI","x":0.2,"x2":0.22,"b":-0.019,"t":-0.013},{"p":"B","s":"RIMI","x":0.22,"x2":0.24,"b":-0.019,"t":-0.013},
{"p":"B","s":"Dan","x":-0.492,"x2":-0.41,"b":-0.296,"t":-0.271},{"p":"B","s":"Dan","x":-0.41,"x2":-0.329,"b":-0.296,"t":-0.258},{"p":"B","s":"Dan","x":-0.329,"x2":-0.247,"b":-0.296,"t":-0.249},{"p":"B","s":"Dan","x":-0.247,"x2":-0.166,"b":-0.296,"t":-0.23},{"p":"B","s":"Dan","x":-0.166,"x2":-0.084,"b":-0.296,"t":-0.23},{"p":"B","s":"Dan","x":-0.084,"x2":-0.003,"b":-0.296,"t":-0.167},{"p":"B","s":"Dan","x":-0.003,"x2":0.079,"b":-0.296,"t":-0.1},{"p":"B","s":"Dan","x":0.079,"x2":0.16,"b":-0.296,"t":-0.217},{"p":"B","s":"Dan","x":0.16,"x2":0.242,"b":-0.296,"t":-0.23},{"p":"B","s":"Dan","x":0.242,"x2":0.324,"b":-0.296,"t":-0.23},{"p":"B","s":"Dan","x":0.324,"x2":0.405,"b":-0.296,"t":-0.277},{"p":"B","s":"Dan","x":0.405,"x2":0.487,"b":-0.296,"t":-0.271},{"p":"B","s":"Dan","x":0.487,"x2":0.568,"b":-0.296,"t":-0.29},{"p":"B","s":"Dan","x":0.568,"x2":0.65,"b":-0.296,"t":-0.271},{"p":"B","s":"Dan","x":0.65,"x2":0.731,"b":-0.296,"t":-0.28},{"p":"B","s":"Dan","x":0.731,"x2":0.813,"b":-0.296,"t":-0.28},
{"p":"B","s":"POLYI","x":-0.466,"x2":-0.415,"b":-0.577,"t":-0.571},{"p":"B","s":"POLYI","x":-0.415,"x2":-0.363,"b":-0.577,"t":-0.571},{"p":"B","s":"POLYI","x":-0.363,"x2":-0.312,"b":-0.577,"t":-0.561},{"p":"B","s":"POLYI","x":-0.312,"x2":-0.26,"b":-0.577,"t":-0.552},{"p":"B","s":"POLYI","x":-0.26,"x2":-0.209,"b":-0.577,"t":-0.542},{"p":"B","s":"POLYI","x":-0.209,"x2":-0.157,"b":-0.577,"t":-0.517},{"p":"B","s":"POLYI","x":-0.157,"x2":-0.106,"b":-0.577,"t":-0.511},{"p":"B","s":"POLYI","x":-0.106,"x2":-0.054,"b":-0.577,"t":-0.482},{"p":"B","s":"POLYI","x":-0.054,"x2":-0.003,"b":-0.577,"t":-0.378},{"p":"B","s":"POLYI","x":-0.003,"x2":0.049,"b":-0.577,"t":-0.46},{"p":"B","s":"POLYI","x":0.049,"x2":0.1,"b":-0.577,"t":-0.571},{"p":"B","s":"POLYI","x":0.1,"x2":0.152,"b":-0.577,"t":-0.53},{"p":"B","s":"POLYI","x":0.152,"x2":0.203,"b":-0.577,"t":-0.523},{"p":"B","s":"POLYI","x":0.203,"x2":0.255,"b":-0.577,"t":-0.514},{"p":"B","s":"POLYI","x":0.255,"x2":0.306,"b":-0.577,"t":-0.539},{"p":"B","s":"POLYI","x":0.306,"x2":0.358,"b":-0.577,"t":-0.539},
{"p":"B","s":"ICEI","x":-0.801,"x2":-0.641,"b":-0.858,"t":-0.849},{"p":"B","s":"ICEI","x":-0.641,"x2":-0.481,"b":-0.858,"t":-0.855},{"p":"B","s":"ICEI","x":-0.481,"x2":-0.321,"b":-0.858,"t":-0.849},{"p":"B","s":"ICEI","x":-0.321,"x2":-0.161,"b":-0.858,"t":-0.801},{"p":"B","s":"ICEI","x":-0.161,"x2":-0.001,"b":-0.858,"t":-0.659},{"p":"B","s":"ICEI","x":-0.001,"x2":0.159,"b":-0.858,"t":-0.801},{"p":"B","s":"ICEI","x":0.159,"x2":0.319,"b":-0.858,"t":-0.836},{"p":"B","s":"ICEI","x":0.319,"x2":0.479,"b":-0.858,"t":-0.839},{"p":"B","s":"ICEI","x":0.479,"x2":0.639,"b":-0.858,"t":-0.855},{"p":"B","s":"ICEI","x":0.639,"x2":0.799,"b":-0.858,"t":-0.855},{"p":"B","s":"ICEI","x":0.799,"x2":0.959,"b":-0.858,"t":-0.855},{"p":"B","s":"ICEI","x":0.959,"x2":1.119,"b":-0.858,"t":-0.849},{"p":"B","s":"ICEI","x":1.119,"x2":1.279,"b":-0.858,"t":-0.855},{"p":"B","s":"ICEI","x":1.279,"x2":1.439,"b":-0.858,"t":-0.852},{"p":"B","s":"ICEI","x":1.439,"x2":1.599,"b":-0.858,"t":-0.855},{"p":"B","s":"ICEI","x":1.599,"x2":1.759,"b":-0.858,"t":-0.855},
{"p":"C","s":"Fen","x":-0.23,"x2":-0.21,"b":0.542,"t":0.548},{"p":"C","s":"Fen","x":-0.21,"x2":-0.19,"b":0.542,"t":0.548},{"p":"C","s":"Fen","x":-0.19,"x2":-0.17,"b":0.542,"t":0.551},{"p":"C","s":"Fen","x":-0.17,"x2":-0.15,"b":0.542,"t":0.555},{"p":"C","s":"Fen","x":-0.15,"x2":-0.13,"b":0.542,"t":0.567},{"p":"C","s":"Fen","x":-0.13,"x2":-0.11,"b":0.542,"t":0.58},{"p":"C","s":"Fen","x":-0.11,"x2":-0.09,"b":0.542,"t":0.599},{"p":"C","s":"Fen","x":-0.09,"x2":-0.07,"b":0.542,"t":0.621},{"p":"C","s":"Fen","x":-0.07,"x2":-0.05,"b":0.542,"t":0.631},{"p":"C","s":"Fen","x":-0.05,"x2":-0.03,"b":0.542,"t":0.653},{"p":"C","s":"Fen","x":-0.03,"x2":-0.01,"b":0.542,"t":0.741},{"p":"C","s":"Fen","x":-0.01,"x2":0.01,"b":0.542,"t":0.669},{"p":"C","s":"Fen","x":0.01,"x2":0.03,"b":0.542,"t":0.621},{"p":"C","s":"Fen","x":0.03,"x2":0.05,"b":0.542,"t":0.605},{"p":"C","s":"Fen","x":0.05,"x2":0.07,"b":0.542,"t":0.567},
{"p":"C","s":"Lake","x":-0.036,"x2":-0.028,"b":0.26,"t":0.285},{"p":"C","s":"Lake","x":-0.028,"x2":-0.02,"b":0.26,"t":0.323},{"p":"C","s":"Lake","x":-0.02,"x2":-0.012,"b":0.26,"t":0.387},{"p":"C","s":"Lake","x":-0.012,"x2":-0.004,"b":0.26,"t":0.434},{"p":"C","s":"Lake","x":-0.004,"x2":0.004,"b":0.26,"t":0.456},{"p":"C","s":"Lake","x":0.004,"x2":0.012,"b":0.26,"t":0.402},{"p":"C","s":"Lake","x":0.012,"x2":0.02,"b":0.26,"t":0.323},{"p":"C","s":"Lake","x":0.02,"x2":0.028,"b":0.26,"t":0.279},
{"p":"C","s":"RIMI","x":-0.275,"x2":-0.25,"b":-0.025,"t":-0.016},{"p":"C","s":"RIMI","x":-0.25,"x2":-0.225,"b":-0.025,"t":-0.012},{"p":"C","s":"RIMI","x":-0.225,"x2":-0.2,"b":-0.025,"t":-0.006},{"p":"C","s":"RIMI","x":-0.2,"x2":-0.175,"b":-0.025,"t":0.007},{"p":"C","s":"RIMI","x":-0.175,"x2":-0.15,"b":-0.025,"t":0.038},{"p":"C","s":"RIMI","x":-0.15,"x2":-0.125,"b":-0.025,"t":0.045},{"p":"C","s":"RIMI","x":-0.125,"x2":-0.1,"b":-0.025,"t":0.013},{"p":"C","s":"RIMI","x":-0.1,"x2":-0.075,"b":-0.025,"t":0.054},{"p":"C","s":"RIMI","x":-0.075,"x2":-0.05,"b":-0.025,"t":0.022},{"p":"C","s":"RIMI","x":-0.05,"x2":-0.025,"b":-0.025,"t":0.045},{"p":"C","s":"RIMI","x":-0.025,"x2":0,"b":-0.025,"t":0},{"p":"C","s":"RIMI","x":0,"x2":0.025,"b":-0.025,"t":0.178},{"p":"C","s":"RIMI","x":0.025,"x2":0.05,"b":-0.025,"t":0.086},{"p":"C","s":"RIMI","x":0.05,"x2":0.075,"b":-0.025,"t":0.007},{"p":"C","s":"RIMI","x":0.075,"x2":0.1,"b":-0.025,"t":-0.009},{"p":"C","s":"RIMI","x":0.1,"x2":0.125,"b":-0.025,"t":-0.009},{"p":"C","s":"RIMI","x":0.125,"x2":0.15,"b":-0.025,"t":-0.012},{"p":"C","s":"RIMI","x":0.15,"x2":0.175,"b":-0.025,"t":-0.012},{"p":"C","s":"RIMI","x":0.175,"x2":0.2,"b":-0.025,"t":-0.009},
{"p":"C","s":"Dan","x":-0.493,"x2":-0.411,"b":-0.303,"t":-0.281},{"p":"C","s":"Dan","x":-0.411,"x2":-0.329,"b":-0.303,"t":-0.268},{"p":"C","s":"Dan","x":-0.329,"x2":-0.247,"b":-0.303,"t":-0.262},{"p":"C","s":"Dan","x":-0.247,"x2":-0.164,"b":-0.303,"t":-0.246},{"p":"C","s":"Dan","x":-0.164,"x2":-0.082,"b":-0.303,"t":-0.199},{"p":"C","s":"Dan","x":-0.082,"x2":0,"b":-0.303,"t":-0.154},{"p":"C","s":"Dan","x":0,"x2":0.082,"b":-0.303,"t":-0.104},{"p":"C","s":"Dan","x":0.082,"x2":0.164,"b":-0.303,"t":-0.23},{"p":"C","s":"Dan","x":0.164,"x2":0.247,"b":-0.303,"t":-0.218},{"p":"C","s":"Dan","x":0.247,"x2":0.329,"b":-0.303,"t":-0.224},{"p":"C","s":"Dan","x":0.329,"x2":0.411,"b":-0.303,"t":-0.268},{"p":"C","s":"Dan","x":0.411,"x2":0.493,"b":-0.303,"t":-0.275},{"p":"C","s":"Dan","x":0.493,"x2":0.575,"b":-0.303,"t":-0.284},{"p":"C","s":"Dan","x":0.575,"x2":0.658,"b":-0.303,"t":-0.262},{"p":"C","s":"Dan","x":0.658,"x2":0.74,"b":-0.303,"t":-0.278},{"p":"C","s":"Dan","x":0.74,"x2":0.822,"b":-0.303,"t":-0.268},
{"p":"C","s":"POLYI","x":-0.358,"x2":-0.313,"b":-0.588,"t":-0.553},{"p":"C","s":"POLYI","x":-0.313,"x2":-0.268,"b":-0.588,"t":-0.547},{"p":"C","s":"POLYI","x":-0.268,"x2":-0.224,"b":-0.588,"t":-0.503},{"p":"C","s":"POLYI","x":-0.224,"x2":-0.179,"b":-0.588,"t":-0.465},{"p":"C","s":"POLYI","x":-0.179,"x2":-0.134,"b":-0.588,"t":-0.458},{"p":"C","s":"POLYI","x":-0.134,"x2":-0.089,"b":-0.588,"t":-0.439},{"p":"C","s":"POLYI","x":-0.089,"x2":-0.044,"b":-0.588,"t":-0.401},{"p":"C","s":"POLYI","x":-0.044,"x2":0,"b":-0.588,"t":-0.389},{"p":"C","s":"POLYI","x":0,"x2":0.045,"b":-0.588,"t":-0.496},{"p":"C","s":"POLYI","x":0.045,"x2":0.09,"b":-0.588,"t":-0.534},{"p":"C","s":"POLYI","x":0.09,"x2":0.134,"b":-0.588,"t":-0.515},{"p":"C","s":"POLYI","x":0.134,"x2":0.179,"b":-0.588,"t":-0.468},{"p":"C","s":"POLYI","x":0.179,"x2":0.224,"b":-0.588,"t":-0.487},{"p":"C","s":"POLYI","x":0.224,"x2":0.269,"b":-0.588,"t":-0.515},{"p":"C","s":"POLYI","x":0.269,"x2":0.313,"b":-0.588,"t":-0.515},{"p":"C","s":"POLYI","x":0.313,"x2":0.358,"b":-0.588,"t":-0.525},
{"p":"C","s":"ICEI","x":-0.912,"x2":-0.751,"b":-0.867,"t":-0.861},{"p":"C","s":"ICEI","x":-0.751,"x2":-0.59,"b":-0.867,"t":-0.864},{"p":"C","s":"ICEI","x":-0.59,"x2":-0.429,"b":-0.867,"t":-0.864},{"p":"C","s":"ICEI","x":-0.429,"x2":-0.268,"b":-0.867,"t":-0.845},{"p":"C","s":"ICEI","x":-0.268,"x2":-0.107,"b":-0.867,"t":-0.74},{"p":"C","s":"ICEI","x":-0.107,"x2":0.054,"b":-0.867,"t":-0.668},{"p":"C","s":"ICEI","x":0.054,"x2":0.215,"b":-0.867,"t":-0.797},{"p":"C","s":"ICEI","x":0.215,"x2":0.376,"b":-0.867,"t":-0.845},{"p":"C","s":"ICEI","x":0.376,"x2":0.537,"b":-0.867,"t":-0.864},{"p":"C","s":"ICEI","x":0.537,"x2":0.698,"b":-0.867,"t":-0.854},{"p":"C","s":"ICEI","x":0.698,"x2":0.859,"b":-0.867,"t":-0.861},{"p":"C","s":"ICEI","x":0.859,"x2":1.02,"b":-0.867,"t":-0.845},{"p":"C","s":"ICEI","x":1.02,"x2":1.181,"b":-0.867,"t":-0.861},{"p":"C","s":"ICEI","x":1.181,"x2":1.342,"b":-0.867,"t":-0.864},{"p":"C","s":"ICEI","x":1.342,"x2":1.503,"b":-0.867,"t":-0.864},{"p":"C","s":"ICEI","x":1.503,"x2":1.664,"b":-0.867,"t":-0.861}
],
"labs":[
{"p":"A","s":"Fen","k":"n","x":-0.276,"y":0.748,"t":"83"},{"p":"A","s":"Fen","k":"m","x":0.144,"y":0.644,"t":"Abisko (Fen)"},
{"p":"A","s":"Lake","k":"n","x":-0.204,"y":0.464,"t":"47"},{"p":"A","s":"Lake","k":"m","x":0.041,"y":0.36,"t":"Abisko (Lake)"},
{"p":"A","s":"RIMI","k":"n","x":-0.307,"y":0.18,"t":"90"},{"p":"A","s":"RIMI","k":"m","x":0.222,"y":0.076,"t":"RIMI"},
{"p":"A","s":"Dan","k":"n","x":-0.575,"y":-0.101,"t":"66"},{"p":"A","s":"Dan","k":"m","x":0.827,"y":-0.202,"t":"Daneborg"},
{"p":"A","s":"POLYI","k":"n","x":-0.59,"y":-0.378,"t":"53"},{"p":"A","s":"POLYI","k":"m","x":0.446,"y":-0.483,"t":"POLYI"},
{"p":"A","s":"ICEI","k":"n","x":-1.731,"y":-0.656,"t":"136"},{"p":"A","s":"ICEI","k":"m","x":1.755,"y":-0.76,"t":"ICEI"},
{"p":"B","s":"Fen","k":"n","x":-0.286,"y":0.748,"t":"76"},{"p":"B","s":"Fen","k":"m","x":0.134,"y":0.644,"t":"Abisko (Fen)"},
{"p":"B","s":"Lake","k":"n","x":-0.193,"y":0.464,"t":"49"},{"p":"B","s":"Lake","k":"m","x":0.039,"y":0.36,"t":"Abisko (Lake)"},
{"p":"B","s":"RIMI","k":"n","x":-0.32,"y":0.18,"t":"48"},{"p":"B","s":"RIMI","k":"m","x":0.247,"y":0.076,"t":"RIMI"},
{"p":"B","s":"Dan","k":"n","x":-0.572,"y":-0.101,"t":"56"},{"p":"B","s":"Dan","k":"m","x":0.807,"y":-0.202,"t":"Daneborg"},
{"p":"B","s":"POLYI","k":"n","x":-0.544,"y":-0.378,"t":"52"},{"p":"B","s":"POLYI","k":"m","x":0.371,"y":-0.483,"t":"POLYI"},
{"p":"B","s":"ICEI","k":"n","x":-0.912,"y":-0.656,"t":"120"},{"p":"B","s":"ICEI","k":"m","x":1.788,"y":-0.76,"t":"ICEI"},
{"p":"C","s":"Fen","k":"n","x":-0.307,"y":0.741,"t":"61"},{"p":"C","s":"Fen","k":"m","x":0.062,"y":0.63,"t":"Abisko (Fen)"},
{"p":"C","s":"Lake","k":"n","x":-0.113,"y":0.456,"t":"14"},{"p":"C","s":"Lake","k":"m","x":0.028,"y":0.352,"t":"Abisko (Lake)"},
{"p":"C","s":"RIMI","k":"n","x":-0.345,"y":0.178,"t":"31"},{"p":"C","s":"RIMI","k":"m","x":0.201,"y":0.07,"t":"RIMI"},
{"p":"C","s":"Dan","k":"n","x":-0.572,"y":-0.107,"t":"53"},{"p":"C","s":"Dan","k":"m","x":0.827,"y":-0.208,"t":"Daneborg"},
{"p":"C","s":"POLYI","k":"n","x":-0.435,"y":-0.383,"t":"30"},{"p":"C","s":"POLYI","k":"m","x":0.363,"y":-0.484,"t":"POLYI"},
{"p":"C","s":"ICEI","k":"n","x":-0.997,"y":-0.667,"t":"83"},{"p":"C","s":"ICEI","k":"m","x":1.716,"y":-0.778,"t":"ICEI"}
]
},
"vconcat":[
{"hconcat":[
{"width":534,"height":424,"title":{"text":"Sensible heat flux","offset":4},
 "encoding":{"x":{"field":"x","type":"quantitative","scale":{"domain":[-2,2],"nice":false,"zero":false},"axis":{"values":[-2,-1.6,-1.2,-0.8,-0.4,0,0.4,0.8,1.2,1.6,2],"labelExpr":"'' + datum.value","title":"zL⁻¹"}}},
 "layer":[
  {"layer":[
   {"data":{"name":"bands"},"transform":[{"filter":"datum.p=='A'"}],"mark":{"type":"area","color":"#dcdcdc"},"encoding":{"y":{"field":"oh","type":"quantitative","scale":{"type":"log","domain":[0.1,1000],"nice":false},"axis":{"values":[5,10,20,30,40,50,100,200,300,400,500],"labelExpr":"'' + datum.value","title":"Relative difference [%]"}},"y2":{"field":"ol"}}},
   {"data":{"name":"bands"},"transform":[{"filter":"datum.p=='A'"}],"mark":{"type":"area","color":"#a8a8a8"},"encoding":{"y":{"field":"ih","type":"quantitative","scale":{"type":"log","domain":[0.1,1000],"nice":false},"axis":{"values":[5,10,20,30,40,50,100,200,300,400,500],"labelExpr":"'' + datum.value","title":"Relative difference [%]"}},"y2":{"field":"il"}}},
   {"data":{"name":"bands"},"transform":[{"filter":"datum.p=='A'"}],"mark":{"type":"line","color":"#ff0000","strokeWidth":1},"encoding":{"y":{"field":"m","type":"quantitative","scale":{"type":"log","domain":[0.1,1000],"nice":false},"axis":{"values":[5,10,20,30,40,50,100,200,300,400,500],"labelExpr":"'' + datum.value","title":"Relative difference [%]"}}}},
   {"data":{"values":[{}]},"mark":{"type":"rule","color":"#000","strokeWidth":1},"encoding":{"x":{"datum":0}}},
   {"data":{"name":"pts"},"transform":[{"filter":"datum.p=='A'"}],"mark":{"type":"point","filled":true,"size":100,"strokeWidth":1,"opacity":1},
    "encoding":{"y":{"field":"y","type":"quantitative","scale":{"type":"log","domain":[0.1,1000],"nice":false},"axis":{"values":[5,10,20,30,40,50,100,200,300,400,500],"labelExpr":"'' + datum.value","title":"Relative difference [%]"}},
     "stroke":{"field":"s","type":"nominal","scale":{"domain":["Fen","Lake","RIMI","Dan","POLYI","ICEI"],"range":["#0000ff","#ff00ff","#00e000","#ff0000","#000000","#ff8000"]},"legend":null},
     "fill":{"field":"s","type":"nominal","scale":{"domain":["Fen","Lake","RIMI","Dan","POLYI","ICEI"],"range":["transparent","transparent","transparent","transparent","transparent","transparent"]},"legend":null},
     "shape":{"field":"s","type":"nominal","scale":{"domain":["Fen","Lake","RIMI","Dan","POLYI","ICEI"],"range":["circle","triangle-up","M-1,0L1,0M0,-1L0,1M-0.7,-0.7L0.7,0.7M-0.7,0.7L0.7,-0.7","M-1,0L1,0M0,-1L0,1","triangle-down","M-0.8,-0.8L0.8,0.8M-0.8,0.8L0.8,-0.8"]},"legend":null}}},
   {"data":{"name":"letters"},"transform":[{"filter":"datum.p=='A'"}],"mark":{"type":"text","fontSize":27,"fontWeight":"bold","color":"#000"},"encoding":{"y":{"field":"y","type":"quantitative","scale":{"type":"log","domain":[0.1,1000],"nice":false},"axis":{"values":[5,10,20,30,40,50,100,200,300,400,500],"labelExpr":"'' + datum.value","title":"Relative difference [%]"}},"text":{"field":"p"}}}
  ]},
  {"layer":[
   {"data":{"name":"hist"},"transform":[{"filter":"datum.p=='A'"}],"mark":{"type":"rect","filled":false,"strokeWidth":1},"encoding":{"x2":{"field":"x2"},"y":{"field":"b","type":"quantitative","scale":{"domain":[-1,3],"nice":false,"zero":false},"axis":null},"y2":{"field":"t"},"color":{"field":"s","type":"nominal","scale":{"domain":["Fen","Lake","RIMI","Dan","POLYI","ICEI"],"range":["#0000ff","#ff00ff","#00e000","#ff0000","#000000","#ff8000"]},"legend":null}}},
   {"data":{"name":"hist"},"transform":[{"filter":"datum.p=='A' && datum.s=='Lake'"}],"mark":{"type":"rect","color":"#ff00ff"},"encoding":{"x2":{"field":"x2"},"y":{"field":"b","type":"quantitative","scale":{"domain":[-1,3],"nice":false,"zero":false},"axis":null},"y2":{"field":"t"}}},
   {"data":{"name":"labs"},"transform":[{"filter":"datum.p=='A' && datum.k=='n'"}],"mark":{"type":"text","fontSize":14,"fontWeight":"bold","align":"center","baseline":"middle"},"encoding":{"y":{"field":"y","type":"quantitative","scale":{"domain":[-1,3],"nice":false,"zero":false},"axis":null},"text":{"field":"t"},"color":{"field":"s","type":"nominal","scale":{"domain":["Fen","Lake","RIMI","Dan","POLYI","ICEI"],"range":["#0000ff","#ff00ff","#00e000","#ff0000","#000000","#ff8000"]},"legend":null}}},
   {"data":{"name":"labs"},"transform":[{"filter":"datum.p=='A' && datum.k=='m'"}],"mark":{"type":"text","fontSize":14,"fontWeight":"bold","align":"left","baseline":"middle","color":"#000"},"encoding":{"y":{"field":"y","type":"quantitative","scale":{"domain":[-1,3],"nice":false,"zero":false},"axis":null},"text":{"field":"t"}}}
  ]}
 ],
 "resolve":{"scale":{"y":"independent"}}
},
{"width":534,"height":424,"title":{"text":"Latent heat flux","offset":8},
 "encoding":{"x":{"field":"x","type":"quantitative","scale":{"domain":[-2,2],"nice":false,"zero":false},"axis":{"values":[-2,-1.6,-1.2,-0.8,-0.4,0,0.4,0.8,1.2,1.6,2],"labelExpr":"'' + datum.value","title":"zL⁻¹"}}},
 "layer":[
  {"layer":[
   {"data":{"name":"bands"},"transform":[{"filter":"datum.p=='B'"}],"mark":{"type":"area","color":"#dcdcdc"},"encoding":{"y":{"field":"oh","type":"quantitative","scale":{"type":"log","domain":[0.1,1000],"nice":false},"axis":{"values":[5,10,20,30,40,50,100,200,300,400,500],"labelExpr":"'' + datum.value","title":"Relative difference [%]"}},"y2":{"field":"ol"}}},
   {"data":{"name":"bands"},"transform":[{"filter":"datum.p=='B'"}],"mark":{"type":"area","color":"#a8a8a8"},"encoding":{"y":{"field":"ih","type":"quantitative","scale":{"type":"log","domain":[0.1,1000],"nice":false},"axis":{"values":[5,10,20,30,40,50,100,200,300,400,500],"labelExpr":"'' + datum.value","title":"Relative difference [%]"}},"y2":{"field":"il"}}},
   {"data":{"name":"bands"},"transform":[{"filter":"datum.p=='B'"}],"mark":{"type":"line","color":"#ff0000","strokeWidth":1},"encoding":{"y":{"field":"m","type":"quantitative","scale":{"type":"log","domain":[0.1,1000],"nice":false},"axis":{"values":[5,10,20,30,40,50,100,200,300,400,500],"labelExpr":"'' + datum.value","title":"Relative difference [%]"}}}},
   {"data":{"values":[{}]},"mark":{"type":"rule","color":"#000","strokeWidth":1},"encoding":{"x":{"datum":0}}},
   {"data":{"name":"pts"},"transform":[{"filter":"datum.p=='B'"}],"mark":{"type":"point","filled":true,"size":100,"strokeWidth":1,"opacity":1},
    "encoding":{"y":{"field":"y","type":"quantitative","scale":{"type":"log","domain":[0.1,1000],"nice":false},"axis":{"values":[5,10,20,30,40,50,100,200,300,400,500],"labelExpr":"'' + datum.value","title":"Relative difference [%]"}},
     "stroke":{"field":"s","type":"nominal","scale":{"domain":["Fen","Lake","RIMI","Dan","POLYI","ICEI"],"range":["#0000ff","#ff00ff","#00e000","#ff0000","#000000","#ff8000"]},"legend":null},
     "fill":{"field":"s","type":"nominal","scale":{"domain":["Fen","Lake","RIMI","Dan","POLYI","ICEI"],"range":["transparent","transparent","transparent","transparent","transparent","transparent"]},"legend":null},
     "shape":{"field":"s","type":"nominal","scale":{"domain":["Fen","Lake","RIMI","Dan","POLYI","ICEI"],"range":["circle","triangle-up","M-1,0L1,0M0,-1L0,1M-0.7,-0.7L0.7,0.7M-0.7,0.7L0.7,-0.7","M-1,0L1,0M0,-1L0,1","triangle-down","M-0.8,-0.8L0.8,0.8M-0.8,0.8L0.8,-0.8"]},"legend":null}}},
   {"data":{"name":"letters"},"transform":[{"filter":"datum.p=='B'"}],"mark":{"type":"text","fontSize":27,"fontWeight":"bold","color":"#000"},"encoding":{"y":{"field":"y","type":"quantitative","scale":{"type":"log","domain":[0.1,1000],"nice":false},"axis":{"values":[5,10,20,30,40,50,100,200,300,400,500],"labelExpr":"'' + datum.value","title":"Relative difference [%]"}},"text":{"field":"p"}}}
  ]},
  {"layer":[
   {"data":{"name":"hist"},"transform":[{"filter":"datum.p=='B'"}],"mark":{"type":"rect","filled":false,"strokeWidth":1},"encoding":{"x2":{"field":"x2"},"y":{"field":"b","type":"quantitative","scale":{"domain":[-1,3],"nice":false,"zero":false},"axis":null},"y2":{"field":"t"},"color":{"field":"s","type":"nominal","scale":{"domain":["Fen","Lake","RIMI","Dan","POLYI","ICEI"],"range":["#0000ff","#ff00ff","#00e000","#ff0000","#000000","#ff8000"]},"legend":null}}},
   {"data":{"name":"hist"},"transform":[{"filter":"datum.p=='B' && datum.s=='Lake'"}],"mark":{"type":"rect","color":"#ff00ff"},"encoding":{"x2":{"field":"x2"},"y":{"field":"b","type":"quantitative","scale":{"domain":[-1,3],"nice":false,"zero":false},"axis":null},"y2":{"field":"t"}}},
   {"data":{"name":"labs"},"transform":[{"filter":"datum.p=='B' && datum.k=='n'"}],"mark":{"type":"text","fontSize":14,"fontWeight":"bold","align":"center","baseline":"middle"},"encoding":{"y":{"field":"y","type":"quantitative","scale":{"domain":[-1,3],"nice":false,"zero":false},"axis":null},"text":{"field":"t"},"color":{"field":"s","type":"nominal","scale":{"domain":["Fen","Lake","RIMI","Dan","POLYI","ICEI"],"range":["#0000ff","#ff00ff","#00e000","#ff0000","#000000","#ff8000"]},"legend":null}}},
   {"data":{"name":"labs"},"transform":[{"filter":"datum.p=='B' && datum.k=='m'"}],"mark":{"type":"text","fontSize":14,"fontWeight":"bold","align":"left","baseline":"middle","color":"#000"},"encoding":{"y":{"field":"y","type":"quantitative","scale":{"domain":[-1,3],"nice":false,"zero":false},"axis":null},"text":{"field":"t"}}}
  ]}
 ],
 "resolve":{"scale":{"y":"independent"}}
}
],"spacing":37,
"resolve":{"scale":{"x":"independent","y":"independent","color":"independent","stroke":"independent","fill":"independent","shape":"independent"}}},
{"width":534,"height":424,"title":{"text":"CO₂ Flux","offset":13},
 "encoding":{"x":{"field":"x","type":"quantitative","scale":{"domain":[-2,2],"nice":false,"zero":false},"axis":{"values":[-2,-1.6,-1.2,-0.8,-0.4,0,0.4,0.8,1.2,1.6,2],"labelExpr":"'' + datum.value","title":"zL⁻¹"}}},
 "layer":[
  {"layer":[
   {"data":{"name":"bands"},"transform":[{"filter":"datum.p=='C'"}],"mark":{"type":"area","color":"#dcdcdc"},"encoding":{"y":{"field":"oh","type":"quantitative","scale":{"type":"log","domain":[0.1,1000],"nice":false},"axis":{"values":[5,10,20,30,40,50,100,200,300,400,500],"labelExpr":"'' + datum.value","title":"Relative difference [%]"}},"y2":{"field":"ol"}}},
   {"data":{"name":"bands"},"transform":[{"filter":"datum.p=='C'"}],"mark":{"type":"area","color":"#a8a8a8"},"encoding":{"y":{"field":"ih","type":"quantitative","scale":{"type":"log","domain":[0.1,1000],"nice":false},"axis":{"values":[5,10,20,30,40,50,100,200,300,400,500],"labelExpr":"'' + datum.value","title":"Relative difference [%]"}},"y2":{"field":"il"}}},
   {"data":{"name":"bands"},"transform":[{"filter":"datum.p=='C'"}],"mark":{"type":"line","color":"#ff0000","strokeWidth":1},"encoding":{"y":{"field":"m","type":"quantitative","scale":{"type":"log","domain":[0.1,1000],"nice":false},"axis":{"values":[5,10,20,30,40,50,100,200,300,400,500],"labelExpr":"'' + datum.value","title":"Relative difference [%]"}}}},
   {"data":{"values":[{}]},"mark":{"type":"rule","color":"#000","strokeWidth":1},"encoding":{"x":{"datum":0}}},
   {"data":{"name":"pts"},"transform":[{"filter":"datum.p=='C'"}],"mark":{"type":"point","filled":true,"size":100,"strokeWidth":1,"opacity":1},
    "encoding":{"y":{"field":"y","type":"quantitative","scale":{"type":"log","domain":[0.1,1000],"nice":false},"axis":{"values":[5,10,20,30,40,50,100,200,300,400,500],"labelExpr":"'' + datum.value","title":"Relative difference [%]"}},
     "stroke":{"field":"s","type":"nominal","scale":{"domain":["Fen","Lake","RIMI","Dan","POLYI","ICEI","b1","b2","med"],"range":["#0000ff","#ff00ff","#00e000","#ff0000","#000000","#ff8000","#b2b2b2","#4b4b4b","#ff0000"]},
       "legend":{"title":null,"orient":"none","legendX":630,"legendY":15,"padding":0,"symbolSize":100,"symbolStrokeWidth":1,"labelFont":"Liberation Sans","labelFontSize":14,"labelFontWeight":"bold","labelColor":"#000","labelOffset":20,"labelLimit":400,"rowPadding":5,"labelExpr":"datum.label=='Fen'?'Abisko (Fen), Sweden':datum.label=='Lake'?'Abisko (Lake), Sweden':datum.label=='RIMI'?'RIMI, Denmark':datum.label=='Dan'?'Daneborg, NE Greenland':datum.label=='POLYI'?'POLYI, NE Greenland':datum.label=='ICEI'?'ICEI, NE Greenland':datum.label=='b1'?'13.6%-86.4% (st.deviation)':datum.label=='b2'?'25%-75%':'Median'"}},
     "fill":{"field":"s","type":"nominal","scale":{"domain":["Fen","Lake","RIMI","Dan","POLYI","ICEI","b1","b2","med"],"range":["transparent","transparent","transparent","transparent","transparent","transparent","#b2b2b2","#4b4b4b","transparent"]},
       "legend":{"title":null,"orient":"none","legendX":630,"legendY":15,"padding":0,"symbolSize":100,"symbolStrokeWidth":1,"labelFont":"Liberation Sans","labelFontSize":14,"labelFontWeight":"bold","labelColor":"#000","labelOffset":20,"labelLimit":400,"rowPadding":5,"labelExpr":"datum.label=='Fen'?'Abisko (Fen), Sweden':datum.label=='Lake'?'Abisko (Lake), Sweden':datum.label=='RIMI'?'RIMI, Denmark':datum.label=='Dan'?'Daneborg, NE Greenland':datum.label=='POLYI'?'POLYI, NE Greenland':datum.label=='ICEI'?'ICEI, NE Greenland':datum.label=='b1'?'13.6%-86.4% (st.deviation)':datum.label=='b2'?'25%-75%':'Median'"}},
     "shape":{"field":"s","type":"nominal","scale":{"domain":["Fen","Lake","RIMI","Dan","POLYI","ICEI","b1","b2","med"],"range":["circle","triangle-up","M-1,0L1,0M0,-1L0,1M-0.7,-0.7L0.7,0.7M-0.7,0.7L0.7,-0.7","M-1,0L1,0M0,-1L0,1","triangle-down","M-0.8,-0.8L0.8,0.8M-0.8,0.8L0.8,-0.8","M-4.2,-1.2L4.2,-1.2L4.2,1.2L-4.2,1.2Z","M-4.2,-1.2L4.2,-1.2L4.2,1.2L-4.2,1.2Z","M-4.2,0L4.2,0"]},
       "legend":{"title":null,"orient":"none","legendX":630,"legendY":15,"padding":0,"symbolSize":100,"symbolStrokeWidth":1,"labelFont":"Liberation Sans","labelFontSize":14,"labelFontWeight":"bold","labelColor":"#000","labelOffset":20,"labelLimit":400,"rowPadding":5,"labelExpr":"datum.label=='Fen'?'Abisko (Fen), Sweden':datum.label=='Lake'?'Abisko (Lake), Sweden':datum.label=='RIMI'?'RIMI, Denmark':datum.label=='Dan'?'Daneborg, NE Greenland':datum.label=='POLYI'?'POLYI, NE Greenland':datum.label=='ICEI'?'ICEI, NE Greenland':datum.label=='b1'?'13.6%-86.4% (st.deviation)':datum.label=='b2'?'25%-75%':'Median'"}}}},
   {"data":{"name":"letters"},"transform":[{"filter":"datum.p=='C'"}],"mark":{"type":"text","fontSize":27,"fontWeight":"bold","color":"#000"},"encoding":{"y":{"field":"y","type":"quantitative","scale":{"type":"log","domain":[0.1,1000],"nice":false},"axis":{"values":[5,10,20,30,40,50,100,200,300,400,500],"labelExpr":"'' + datum.value","title":"Relative difference [%]"}},"text":{"field":"p"}}}
  ]},
  {"layer":[
   {"data":{"name":"hist"},"transform":[{"filter":"datum.p=='C'"}],"mark":{"type":"rect","filled":false,"strokeWidth":1},"encoding":{"x2":{"field":"x2"},"y":{"field":"b","type":"quantitative","scale":{"domain":[-1,3],"nice":false,"zero":false},"axis":null},"y2":{"field":"t"},"color":{"field":"s","type":"nominal","scale":{"domain":["Fen","Lake","RIMI","Dan","POLYI","ICEI"],"range":["#0000ff","#ff00ff","#00e000","#ff0000","#000000","#ff8000"]},"legend":null}}},
   {"data":{"name":"hist"},"transform":[{"filter":"datum.p=='C' && datum.s=='Lake'"}],"mark":{"type":"rect","color":"#ff00ff"},"encoding":{"x2":{"field":"x2"},"y":{"field":"b","type":"quantitative","scale":{"domain":[-1,3],"nice":false,"zero":false},"axis":null},"y2":{"field":"t"}}},
   {"data":{"name":"labs"},"transform":[{"filter":"datum.p=='C' && datum.k=='n'"}],"mark":{"type":"text","fontSize":14,"fontWeight":"bold","align":"center","baseline":"middle"},"encoding":{"y":{"field":"y","type":"quantitative","scale":{"domain":[-1,3],"nice":false,"zero":false},"axis":null},"text":{"field":"t"},"color":{"field":"s","type":"nominal","scale":{"domain":["Fen","Lake","RIMI","Dan","POLYI","ICEI"],"range":["#0000ff","#ff00ff","#00e000","#ff0000","#000000","#ff8000"]},"legend":null}}},
   {"data":{"name":"labs"},"transform":[{"filter":"datum.p=='C' && datum.k=='m'"}],"mark":{"type":"text","fontSize":14,"fontWeight":"bold","align":"left","baseline":"middle","color":"#000"},"encoding":{"y":{"field":"y","type":"quantitative","scale":{"domain":[-1,3],"nice":false,"zero":false},"axis":null},"text":{"field":"t"}}}
  ]}
 ],
 "resolve":{"scale":{"y":"independent"}}
}
],
"spacing":26,
"resolve":{"scale":{"x":"independent","y":"independent","color":"independent","stroke":"independent","fill":"independent","shape":"independent"}}
}
